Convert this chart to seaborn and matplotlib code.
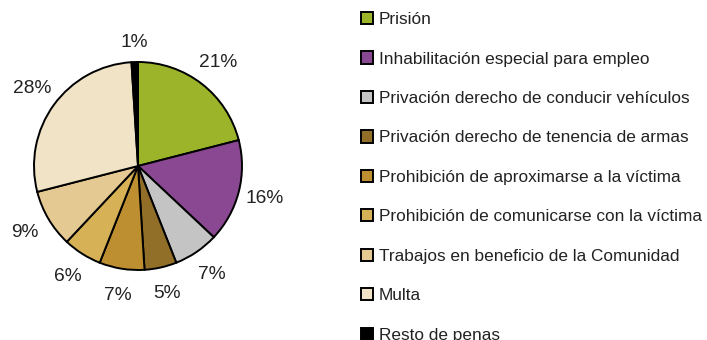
import matplotlib
matplotlib.use("Agg")
import matplotlib.pyplot as plt
import seaborn as sns

categories = [
    "Prisión",
    "Inhabilitación especial para empleo",
    "Privación derecho de conducir vehículos",
    "Privación derecho de tenencia de armas",
    "Prohibición de aproximarse a la víctima",
    "Prohibición de comunicarse con la víctima",
    "Trabajos en beneficio de la Comunidad",
    "Multa",
    "Resto de penas",
]
shares = [21, 16, 7, 5, 7, 6, 9, 28, 1]
colors = ["#9bb42a", "#8a4893", "#c4c4c4", "#926f28", "#bd8f30",
          "#d7b155", "#e5c992", "#f1e3c6", "#000000"]

sns.set_theme(style="white")
plt.rcParams["font.family"] = ["Liberation Sans", "DejaVu Sans"]

W, H = 707, 340
fig = plt.figure(figsize=(W / 100, H / 100), dpi=100)
cx, cy, r = 138, 166, 104
ax = fig.add_axes([(cx - r) / W, (H - cy - r) / H, 2 * r / W, 2 * r / H])

wedges, _, autotexts = ax.pie(
    shares,
    colors=colors,
    startangle=90,
    counterclock=False,
    radius=1.0,
    autopct="%.0f%%",
    pctdistance=1.26,
    wedgeprops=dict(edgecolor="black", linewidth=1.4),
    textprops=dict(fontsize=13.8, color="#222222"),
)
# the thin top slice sits a little nearer the rim
autotexts[-1].set_position((autotexts[-1].get_position()[0] * 0.95,
                            autotexts[-1].get_position()[1] * 0.94))
ax.set_xlim(-1, 1)
ax.set_ylim(-1, 1)
ax.set_aspect("equal")
ax.axis("off")

leg = fig.legend(
    wedges, categories,
    loc="upper left",
    bbox_to_anchor=(361 / W, 1 - 12 / H),
    frameon=False,
    fontsize=12.4,
    handlelength=0.72,
    handleheight=0.72,
    handletextpad=0.3,
    labelspacing=1.41,
    borderaxespad=0,
    borderpad=0,
)
for t in leg.get_texts():
    t.set_color("#222222")

fig.savefig("out.png", dpi=100)
